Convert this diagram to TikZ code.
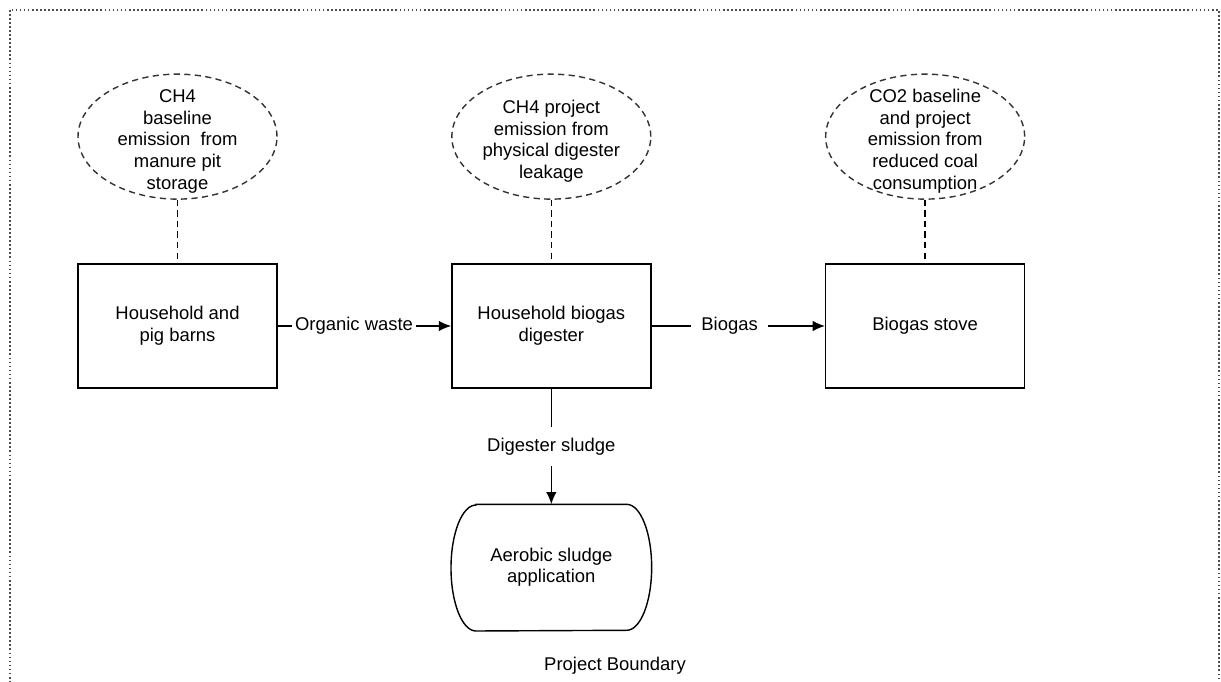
\documentclass[tikz,border=0pt]{standalone}
\usepackage{fontspec}
\setmainfont{Liberation Sans}
\usepackage{tikz}
\usetikzlibrary{arrows.meta,matrix,shapes.geometric}

\newcommand{\lines}[1]{\begin{tabular}{@{}c@{}}#1\end{tabular}}
\newcommand{\emtext}[1]{\makebox[0pt]{\smash{\raisebox{-5.5pt}{\lines{#1}}}}}

\tikzset{
  box/.style={draw, thick, rectangle, minimum width=3.98cm, minimum height=2.48cm, inner sep=0pt},
  emission/.style={draw, thick, ellipse, dash pattern=on 3.5pt off 2.5pt, draw=black!80, minimum width=3.98cm, minimum height=2.5cm, inner sep=0pt},
  sink/.style={rectangle, minimum width=4cm, minimum height=2.52cm, inner sep=0pt},
  lbl/.style={fill=white, inner sep=2pt},
  link/.style={thick, dash pattern=on 3.5pt off 2.5pt},
  flow/.style={thick, -{Latex[length=7pt,width=6pt]}},
  boundary/.style={draw=black!70, line width=0.9pt, dash pattern=on 1pt off 1.3pt}
}

\begin{document}
\begin{tikzpicture}[x=0.02cm, y=-0.02cm, font=\fontsize{10.5}{12.3}\selectfont]
\useasboundingbox (0,0) rectangle (1221,682);
\draw[boundary] (10,10) rectangle (1219,710);

\matrix (m)[matrix of nodes, column sep=3.47cm, row sep=1.27cm, matrix anchor=m-2-1.center,
  nodes={anchor=center}] at (177.5,326) {
|[emission]| \emtext{CH4\\baseline\\emission~ from\\manure pit\\storage}
  & |[emission]| \emtext{CH4 project\\emission from\\physical digester\\leakage}
  & |[emission]| \emtext{CO2 baseline\\and project\\emission from\\reduced coal\\consumption} \\
|[box]| \raisebox{-1.5pt}{\lines{Household and\\pig barns}}
  & |[box]| \raisebox{-1.5pt}{\lines{Household biogas\\digester}}
  & |[box]| Biogas stove \\[1.05cm]
  & |[sink]| \lines{Aerobic sludge\\application}
  & \\
};

% sludge application outline
\draw[thick] ([xshift=0.5cm]m-3-2.north west) -- ([xshift=-0.5cm]m-3-2.north east)
  arc[start angle=90, end angle=-90, x radius=0.5cm, y radius=1.26cm]
  -- ([xshift=0.5cm]m-3-2.south west)
  arc[start angle=270, end angle=90, x radius=0.5cm, y radius=1.26cm] -- cycle;

\draw[link] (m-1-1) -- (m-2-1);
\draw[link] (m-1-2) -- (m-2-2);
\draw[link] (m-1-3) -- (m-2-3);
\draw[flow] (m-2-1) -- node[lbl,pos=.44]{Organic waste} (m-2-2);
\draw[flow] (m-2-2) -- node[lbl,pos=.45,inner xsep=6pt]{Biogas} (m-2-3);
\draw[flow] (m-2-2) -- node[lbl,inner ysep=6pt]{Digester sludge} (m-3-2);

\node (pb) at (615,666) {Project Boundary};
\end{tikzpicture}
\end{document}
